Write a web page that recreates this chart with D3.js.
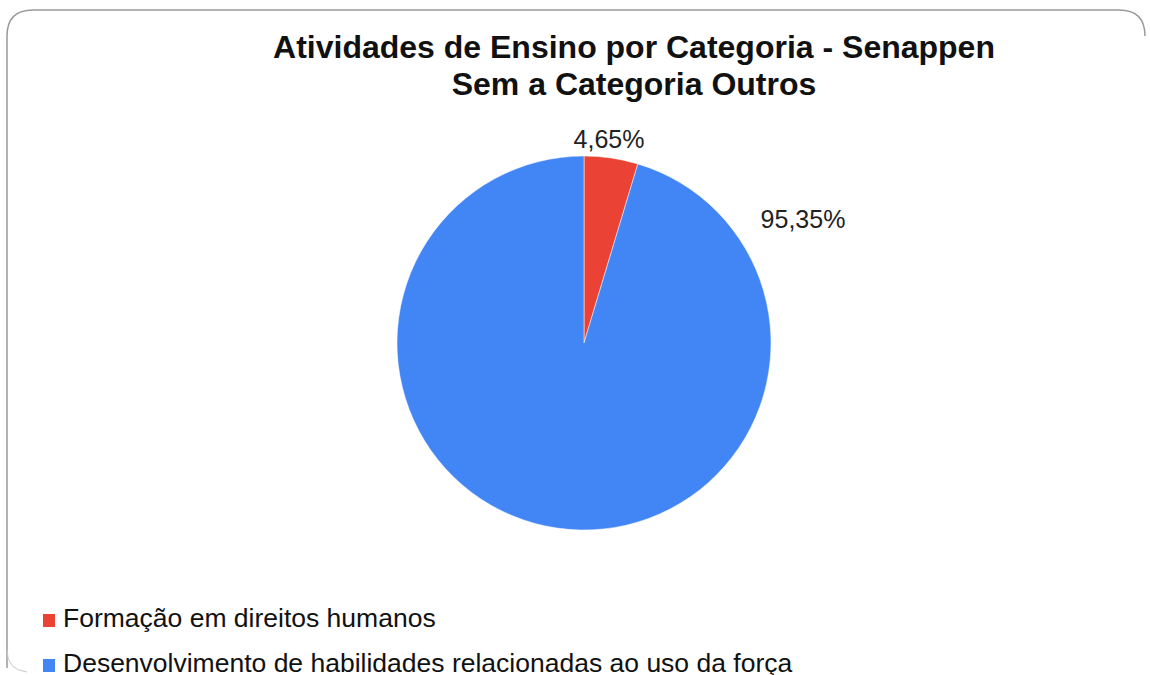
<!DOCTYPE html>
<html>
<head>
<meta charset="utf-8">
<script src="https://cdn.jsdelivr.net/npm/d3@7"></script>
<style>
  body { margin: 0; background: #fff; }
  svg text { font-family: "Liberation Sans", Arial, sans-serif; }
</style>
</head>
<body>
<div id="chart"></div>
<script>
(function () {

  var titleLines = ["Atividades de Ensino por Categoria - Senappen", "Sem a Categoria Outros"]
  var categories = ["Formação em direitos humanos", "Desenvolvimento de habilidades relacionadas ao uso da força"]
  var values = [4.65, 95.35]
  var labels = ["4,65%", "95,35%"]
  var colors = ["#ea4335", "#4285f4"]

  var width = 1150,
      height = 675

  var svg = d3.select("#chart").append("svg")
    .attr("width", width)
    .attr("height", height)

  // frame (only top/left visible in the original screenshot)
  var r0 = 26
  svg.append("path")
    .attr("d", "M7,668 L7," + (10 + r0) + " Q7,10 " + (7 + r0) + ",10 L" + (1145 - r0) + ",10 Q1145,10 1145," + (10 + r0))
    .attr("fill", "none")
    .attr("stroke", "#9a9a9a")
    .attr("stroke-width", 1.5)
  svg.append("path")
    .attr("d", "M7,650 Q7,670 27,672")
    .attr("fill", "none")
    .attr("stroke", "#c8c8c8")
    .attr("stroke-width", 1)

  svg.selectAll(".title")
    .data(titleLines)
    .enter().append("text")
    .attr("class", "title")
    .attr("x", 634)
    .attr("y", function (d, i) { return 58 + i * 37 })
    .attr("text-anchor", "middle")
    .attr("font-size", 32)
    .attr("font-weight", "bold")
    .attr("fill", "#111")
    .text(function (d) { return d })

  var cx = 584, cy = 343, radius = 187

  var pie = d3.pie().sort(null).value(function (d) { return d })
  var arc = d3.arc().innerRadius(0).outerRadius(radius)

  var g = svg.append("g")
    .attr("transform", "translate(" + cx + "," + cy + ")")

  var arcs = pie(values)

  g.selectAll("path")
    .data(arcs)
    .enter().append("path")
    .attr("d", arc)
    .attr("fill", function (d, i) { return colors[i] })
    .attr("stroke", "#fff")
    .attr("stroke-width", 0.5)

  // label positions: small slice label above, big slice label outside upper right
  var labelPos = [
    { x: 25, y: -195 },
    { x: 219, y: -115 }
  ]

  g.selectAll(".lbl")
    .data(arcs)
    .enter().append("text")
    .attr("class", "lbl")
    .attr("x", function (d, i) { return labelPos[i].x })
    .attr("y", function (d, i) { return labelPos[i].y })
    .attr("text-anchor", "middle")
    .attr("font-size", 25)
    .attr("fill", "#222")
    .text(function (d, i) { return labels[i] })

  var legend = svg.selectAll(".legend")
    .data(categories)
    .enter().append("g")
    .attr("class", "legend")
    .attr("transform", function (d, i) { return "translate(43," + (627 + i * 45) + ")" })

  legend.append("rect")
    .attr("x", 0)
    .attr("y", -13)
    .attr("width", 12)
    .attr("height", 13)
    .attr("fill", function (d, i) { return colors[i] })

  legend.append("text")
    .attr("x", 20)
    .attr("y", 0)
    .attr("font-size", 26.5)
    .attr("fill", "#111")
    .text(function (d) { return d })

})()
</script>
</body>
</html>
